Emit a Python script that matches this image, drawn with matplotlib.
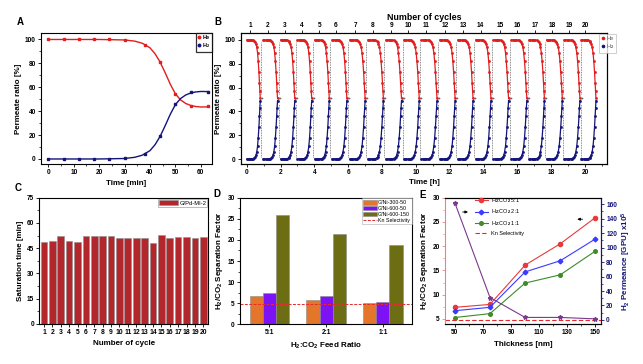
import numpy as np
import matplotlib
matplotlib.use('Agg')
import matplotlib.pyplot as plt
from matplotlib.lines import Line2D
from matplotlib.ticker import AutoMinorLocator

plt.rcParams['font.family'] = ['Liberation Sans', 'DejaVu Sans']
plt.rcParams['font.weight'] = 'bold'
plt.rcParams['axes.labelweight'] = 'bold'
plt.rcParams['mathtext.fontset'] = 'custom'
plt.rcParams['mathtext.rm'] = 'Liberation Sans:bold'
plt.rcParams['mathtext.bf'] = 'Liberation Sans:bold'
plt.rcParams['mathtext.default'] = 'rm'
plt.rcParams['axes.linewidth'] = 0.8

# ---------------- data ----------------
# Panel A
timeA_pts = [0, 6, 12, 18, 24, 30, 38, 44, 50, 56, 63]
heA_pts = [100, 100, 100, 100, 100, 99.5, 95.5, 81, 54, 44, 44]
h2A_pts = [0, 0, 0, 0, 0, 0.5, 4.5, 19, 46, 56, 56]
timeA_fit = [0, 10, 20, 30, 34, 37, 40, 42, 44, 46, 48, 50, 52, 54, 56, 58, 60, 63]
heA_fit = [100, 100, 100, 99.6, 98.6, 96.8, 93, 88, 81, 72, 62.5, 54.5, 49.5, 46.5, 44.8, 43.9, 43.5, 43.6]
h2A_fit = [0, 0, 0, 0.4, 1.4, 3.2, 7, 12, 19, 28, 37.5, 45.5, 50.5, 53.5, 55.2, 56.1, 56.5, 56.4]

# Panel B
cycle_start = [0.0, 0.98, 2.0, 3.0, 4.02, 5.05, 6.09, 7.17, 8.24, 9.29,
               10.32, 11.42, 12.49, 13.54, 14.58, 15.65, 16.7, 17.73, 18.77, 19.78]
cycle_end = [0.8, 1.82, 2.84, 3.84, 4.88, 5.92, 7.0, 8.08, 9.15, 10.2,
             11.25, 12.32, 13.38, 14.44, 15.48, 16.56, 17.6, 18.66, 19.7, 20.65]
cyc_u = [0, 0.08, 0.16, 0.24, 0.32, 0.4, 0.48, 0.56, 0.62, 0.68, 0.74, 0.8, 0.85, 0.9, 0.94, 0.97, 1.0]
cyc_he = [100, 100, 100, 100, 100, 99.8, 99.6, 99.2, 98.5, 97, 94, 89, 82, 73, 64, 57, 51]
cyc_h2 = [0, 0, 0, 0, 0, 0.2, 0.4, 0.8, 1.5, 3, 6, 11, 18, 27, 36, 43, 49]
cycle_labels = [str(i) for i in range(1, 21)]
cycle_tick_pos = [0.2, 1.23, 2.27, 3.26, 4.29, 5.28, 6.42, 7.45, 8.54, 9.55,
                  10.61, 11.72, 12.8, 13.83, 14.96, 15.97, 17.04, 18.04, 19.07, 20.02]

# Panel C
cycle_num = list(range(1, 21))
sat_time = [48.5, 49, 52, 49, 48.5, 52, 52, 52, 52.5, 51, 51, 51, 51, 48, 53, 51, 51.5, 51.5, 51, 51.5]

# Panel D
feed_ratio = ['5:1', '2:1', '1:1']
sf_300_50 = [6.7, 5.8, 5.0]
sf_600_50 = [7.4, 6.6, 5.3]
sf_600_150 = [25.8, 21.4, 18.9]
kn_sel = 4.7

# Panel E
thickness = [50, 75, 100, 125, 150]
sf_51 = [7.4, 8.0, 16.1, 20.5, 25.9]
sf_21 = [6.7, 7.4, 14.7, 17.0, 21.5]
sf_11 = [5.3, 6.1, 12.4, 14.1, 19.0]
permeance = [162, 31, 3.5, 3.5, 1.5]

# ---------------- figure ----------------
W, H = 643, 364
fig = plt.figure(figsize=(W / 100, H / 100), dpi=100)


def ax_px(l, t, r, b):
    return fig.add_axes([l / W, 1 - b / H, (r - l) / W, (b - t) / H])


TICK = 4.7
LAB = 5.8
RED = '#e01e1e'
NAVY = '#14147a'


def style(ax, minor_x=True, minor_y=True):
    ax.tick_params(direction='out', length=2.2, width=0.6, labelsize=TICK, pad=1.5)
    ax.tick_params(which='minor', direction='out', length=1.2, width=0.5)
    if minor_x:
        ax.xaxis.set_minor_locator(AutoMinorLocator(2))
    if minor_y:
        ax.yaxis.set_minor_locator(AutoMinorLocator(2))
    for t in ax.get_xticklabels() + ax.get_yticklabels():
        t.set_fontweight('bold')


# ---- Panel A ----
axA = ax_px(41, 33.5, 212, 164)
axA.plot(timeA_fit, heA_fit, color=RED, lw=1.0)
axA.plot(timeA_fit, h2A_fit, color=NAVY, lw=1.0)
axA.plot(timeA_pts, heA_pts, 's', color=RED, ms=1.8, lw=0)
axA.plot(timeA_pts, h2A_pts, 's', color=NAVY, ms=1.8, lw=0)
axA.set_xlim(-2.9, 64.4)
axA.set_ylim(-4.2, 105)
axA.set_xticks([0, 10, 20, 30, 40, 50, 60])
axA.set_yticks([0, 20, 40, 60, 80, 100])
axA.set_xlabel('Time [min]', fontsize=LAB, labelpad=3)
axA.set_ylabel('Permeate ratio [%]', fontsize=LAB, labelpad=2)
style(axA)
legA = axA.legend(handles=[Line2D([], [], marker='o', ls='', color=RED, ms=1.8, label='He'),
                           Line2D([], [], marker='o', ls='', color=NAVY, ms=1.8, label='H$_2$')],
                  loc='upper right', fontsize=4.0, frameon=True, fancybox=False,
                  handlelength=0.6, handletextpad=0.3, borderpad=0.3, labelspacing=0.2,
                  borderaxespad=0.0)
legA.get_frame().set_edgecolor('black')
legA.get_frame().set_linewidth(0.9)
fig.text(20 / W, 1 - 22 / H, 'A', fontsize=7, fontweight='bold', ha='center', va='center')

# ---- Panel B ----
axB = ax_px(241, 33.3, 607, 164)
for s, e in zip(cycle_start, cycle_end):
    tt = [s + u * (e - s) for u in cyc_u]
    axB.plot(tt, cyc_he, color=RED, lw=0.9, marker='s', ms=0.9)
    axB.plot(tt, cyc_h2, color=NAVY, lw=0.9, marker='s', ms=0.9)
for e in cycle_end[:-1]:
    g = e + 0.06
    axB.plot([g, g], [2, 46], color='#6a6a6a', lw=0.6, ls=(0, (1, 1)))
    axB.plot([g, g], [55, 98], color='#6a6a6a', lw=0.6, ls=(0, (1, 1)))
    axB.plot([g + 0.06], [51], marker='+', color='#6a6a6a', ms=1.5, mew=0.5)
axB.set_xlim(-0.34, 21.3)
axB.set_ylim(-4.2, 105.6)
axB.set_xticks(range(0, 21, 2))
axB.set_yticks([0, 20, 40, 60, 80, 100])
axB.set_xlabel('Time [h]', fontsize=LAB, labelpad=2)
axB.set_ylabel('Permeate ratio [%]', fontsize=LAB, labelpad=2)
style(axB)
axBt = axB.twiny()
axBt.set_xlim(axB.get_xlim())
axBt.set_xticks(cycle_tick_pos)
axBt.set_xticklabels(cycle_labels)
axBt.tick_params(direction='out', length=2.2, width=0.6, labelsize=TICK, pad=1.0)
for t in axBt.get_xticklabels():
    t.set_fontweight('bold')
axBt.set_xlabel('Number of cycles', fontsize=LAB + 0.6, labelpad=1.0)
legB = fig.legend(handles=[Line2D([], [], marker='o', ls='', color=RED, ms=1.6, label='He'),
                           Line2D([], [], marker='o', ls='', color=NAVY, ms=1.6, label='H$_2$')],
                  loc='upper left', bbox_to_anchor=(599 / W, 1 - 34 / H), fontsize=4.0,
                  frameon=True, fancybox=False, handlelength=0.6, handletextpad=0.4,
                  borderpad=0.35, labelspacing=0.25, borderaxespad=0.0)
legB.get_frame().set_edgecolor('#aaaaaa')
legB.get_frame().set_linewidth(0.5)
for t in legB.get_texts():
    t.set_color('#555555')
    t.set_fontweight('normal')
fig.text(218 / W, 1 - 22 / H, 'B', fontsize=7, fontweight='bold', ha='center', va='center')

# ---- Panel C ----
axC = ax_px(39.3, 197.7, 208.3, 324)
axC.bar(cycle_num, sat_time, width=0.8, color='#b3262c', edgecolor='#909090', lw=0.4,
        label='G/Pd-MI-2')
axC.set_xlim(0.44, 20.6)
axC.set_ylim(0, 75)
axC.set_xticks(cycle_num)
axC.set_yticks([0, 15, 30, 45, 60, 75])
axC.set_xlabel('Number of cycle', fontsize=LAB, labelpad=3)
axC.set_ylabel('Saturation time [min]', fontsize=LAB, labelpad=2)
style(axC, minor_x=False)
axC.tick_params(axis='x', labelsize=TICK + 0.2, pad=1.5)
legC = axC.legend(loc='upper right', fontsize=4.2, frameon=True, fancybox=False,
                  handlelength=3.2, handleheight=1.1, handletextpad=0.3, borderpad=0.2,
                  borderaxespad=0.15)
legC.get_frame().set_edgecolor('#888888')
legC.get_frame().set_linewidth(0.5)
for t in legC.get_texts():
    t.set_fontweight('normal')
fig.text(18 / W, 1 - 188 / H, 'C', fontsize=7, fontweight='bold', ha='center', va='center')

# ---- Panel D ----
axD = ax_px(240, 197.7, 412.3, 324.3)
xD = np.arange(len(feed_ratio))
bw = 0.233
axD.bar(xD - bw, sf_300_50, bw, color='#e3762a', edgecolor='#8a8a8a', lw=0.4, label='G/Ni-300-50')
axD.bar(xD, sf_600_50, bw, color='#7d12f5', edgecolor='#8a8a8a', lw=0.4, label='G/Ni-600-50')
axD.bar(xD + bw, sf_600_150, bw, color='#6d6d14', edgecolor='#8a8a8a', lw=0.4, label='G/Ni-600-150')
axD.axhline(kn_sel, color='#e8292b', lw=0.7, ls=(0, (3, 1.5)), label='Kn Selectivity')
axD.set_xlim(-0.52, 2.52)
axD.set_ylim(0, 30)
axD.set_xticks(xD)
axD.set_xticklabels(feed_ratio)
axD.set_yticks(range(0, 31, 5))
axD.set_xlabel('H$_2$:CO$_2$ Feed Ratio', fontsize=LAB, labelpad=3)
axD.set_ylabel('H$_2$/CO$_2$ Separation Factor', fontsize=LAB, labelpad=2)
style(axD, minor_x=False)
hD, lD = axD.get_legend_handles_labels()
order = [1, 2, 3, 0]
legD = axD.legend([hD[i] for i in order], [lD[i] for i in order],
                  loc='upper right', fontsize=3.8, frameon=True, fancybox=False,
                  handlelength=2.6, handleheight=1.0, handletextpad=0.3, borderpad=0.25,
                  labelspacing=0.15, borderaxespad=0.15)
legD.get_frame().set_edgecolor('#aaaaaa')
legD.get_frame().set_linewidth(0.5)
for t in legD.get_texts():
    t.set_fontweight('normal')
fig.text(217 / W, 1 - 194 / H, 'D', fontsize=7, fontweight='bold', ha='center', va='center')

# ---- Panel E ----
axE = ax_px(445, 197.7, 601, 324.3)
axE.plot(thickness, sf_51, color='#e8393c', lw=0.8, marker='o', ms=3.0, label='H$_2$:CO$_2$ 5:1')
axE.plot(thickness, sf_21, color='#3a3aff', lw=0.8, marker='D', ms=2.4, label='H$_2$:CO$_2$ 2:1')
axE.plot(thickness, sf_11, color='#3c8c28', lw=0.8, marker='o', ms=2.6, label='H$_2$:CO$_2$ 1:1')
axE.axhline(kn_sel, color='#e8292b', lw=0.8, ls=(0, (4, 2)), label='Kn Selectivity')
axE.set_xlim(43, 154)
axE.set_ylim(3.9, 30)
axE.set_xticks([50, 70, 90, 110, 130, 150])
axE.set_yticks(range(5, 31, 5))
axE.set_xlabel('Thickness [nm]', fontsize=LAB, labelpad=3)
axE.set_ylabel('H$_2$/CO$_2$ Separation Factor', fontsize=LAB, labelpad=2)
style(axE)
axE.spines['left'].set_color('#f08080')
axE.tick_params(axis='y', which='both', colors='#f08080', labelcolor='black')
axE2 = axE.twinx()
axE2.plot(thickness, permeance, color='#7b3a8e', lw=0.8, marker='*', ms=3.2)
axE2.set_ylim(-6, 169)
axE2.set_yticks(range(0, 161, 20))
axE2.tick_params(direction='out', length=2.2, width=0.6, labelsize=TICK, pad=1.5,
                 colors=NAVY)
axE2.tick_params(which='minor', direction='out', length=1.2, width=0.5, colors=NAVY)
axE2.yaxis.set_minor_locator(AutoMinorLocator(2))
for t in axE2.get_yticklabels():
    t.set_fontweight('bold')
axE2.spines['right'].set_color(NAVY)
axE2.spines['left'].set_visible(False)
axE2.set_ylabel('H$_2$ Permeance [GPU] x10$^5$', fontsize=LAB, color=NAVY, labelpad=2)
legE = axE2.legend(*axE.get_legend_handles_labels(), loc='upper left',
                   bbox_to_anchor=(0.19, 1.015), fontsize=4.0, frameon=False,
                   handlelength=2.4, handletextpad=0.6, labelspacing=0.5, borderpad=0.0,
                   borderaxespad=0.0)
for t in legE.get_texts():
    t.set_fontweight('normal')
axE2.annotate('', xy=(0.165, 0.887), xytext=(0.095, 0.887), xycoords='axes fraction',
              arrowprops=dict(arrowstyle='-|>', color='black', lw=0.6, mutation_scale=4))
axE2.annotate('', xy=(0.83, 0.83), xytext=(0.9, 0.83), xycoords='axes fraction',
              arrowprops=dict(arrowstyle='-|>', color='black', lw=0.6, mutation_scale=4))
fig.text(423 / W, 1 - 195 / H, 'E', fontsize=7, fontweight='bold', ha='center', va='center')

fig.savefig('out.png', dpi=100)
